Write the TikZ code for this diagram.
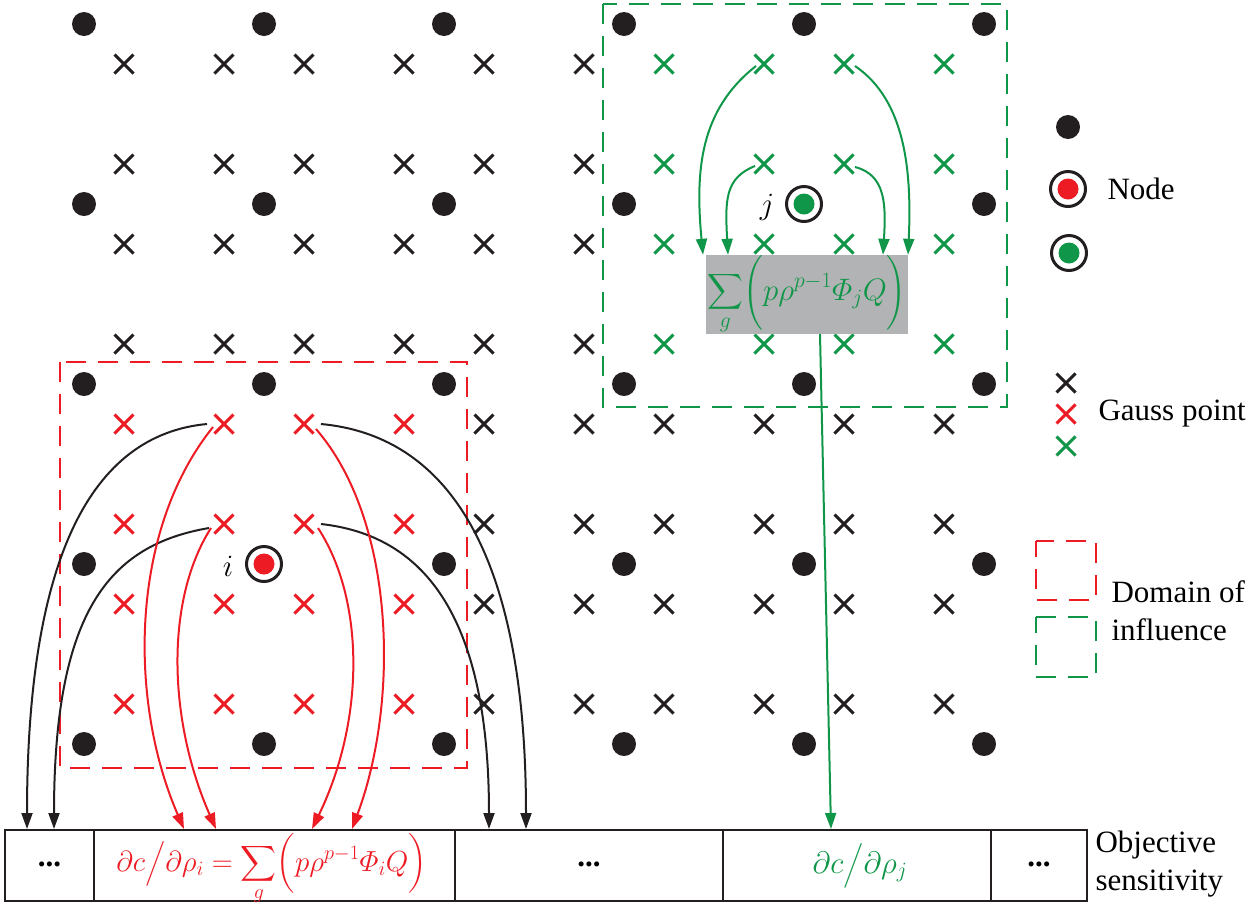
\RequirePackage{fix-cm}
\documentclass[tikz,border=0pt]{standalone}
\usepackage{amsmath}
\usepackage{fontspec}
\setmainfont{Liberation Serif}
\usetikzlibrary{arrows.meta,shapes.misc,calc}
\definecolor{myred}{RGB}{237,28,36}
\definecolor{mygreen}{RGB}{16,150,72}
\definecolor{myblack}{RGB}{35,31,32}
\definecolor{boxgray}{RGB}{178,179,180}
\begin{document}
\begin{tikzpicture}[x=1pt,y=-1pt,
  every node/.style={font=\fontsize{31}{38}\selectfont},
  fenode/.style={circle,fill=myblack,minimum size=24pt,inner sep=0pt},
  gp/.style={cross out,draw=#1,line width=3pt,minimum size=16pt,inner sep=0pt},
  ring/.style={circle,draw=myblack,line width=3pt,minimum size=35pt,inner sep=0pt,fill=white},
  core/.style={circle,fill=#1,minimum size=21pt,inner sep=0pt},
  domrect/.style={draw=#1,line width=2.5pt,dash pattern=on 20pt off 12pt},
  arr/.style={line width=2pt,-{Triangle[length=16pt,width=11pt]}},
  cell/.style={draw=myblack,line width=2pt,minimum height=71pt,inner sep=0pt,anchor=north west}
]
\useasboundingbox (0,0) rectangle (1256,906);

% domains of influence
\draw[domrect=myred] (60,362) rectangle (467,768);
\draw[domrect=mygreen] (603,4) rectangle (1007,407);

% Gauss points
\foreach \ec/\er/\col in {0/0/myblack,1/0/myblack,2/0/myblack,0/1/myblack,1/1/myblack,2/1/myblack,
  2/2/myblack,3/2/myblack,4/2/myblack,2/3/myblack,3/3/myblack,4/3/myblack,
  0/2/myred,1/2/myred,0/3/myred,1/3/myred,
  3/0/mygreen,4/0/mygreen,3/1/mygreen,4/1/mygreen}{
  \foreach \k/\dx/\dy in {a/-50/-50,b/50/-50,c/-50/50,d/50/50}{
    \node[gp=\col] (g\ec\er\k) at ({174+180*\ec+\dx},{114+180*\er+\dy}) {};
  }
}

% finite element nodes
\foreach \r in {0,...,4}{
  \foreach \c in {0,...,5}{
    \ifnum\r\c=31 \else\ifnum\r\c=14 \else
      \node[fenode] (n\r\c) at ({84+180*\c},{24+180*\r}) {};
    \fi\fi
  }
}

% special nodes i and j
\node[ring] (i) at (264,564) {};
\node[core=myred] (ic) at (i) {};
\node (il) at (228,566) {$i$};
\node[ring] (j) at (804,204) {};
\node[core=mygreen] (jc) at (j) {};
\node (jl) at (767,207) {$j$};

% gray sum box
\node[fill=boxgray,text=mygreen,minimum width=202pt,minimum height=79pt,inner sep=0pt] (S) at (807,294.5)
  {$\displaystyle\sum_g\biggl(p\rho^{p-1}\varPhi_jQ\biggr)$};

% bottom bar
\node[cell,minimum width=89pt] (c1) at (4,829) {};
\node[cell,minimum width=361pt] (c2) at (93,829) {};
\node[cell,minimum width=268pt] (c3) at (454,829) {};
\node[cell,minimum width=268pt] (c4) at (722,829) {};
\node[cell,minimum width=96pt] (c5) at (990,829) {};
\node (t1) at ([yshift=1]c1.center) {\textbf{...}};
\node[text=myred,inner sep=0pt,font=\fontsize{29}{35}\selectfont] (t2) at ([shift={(-3,4)}]c2.center)
  {$\partial c\big/\partial\rho_i=\displaystyle\sum_g\Bigl(p\rho^{p-1}\varPhi_iQ\Bigr)$};
\node (t3) at ([yshift=1]c3.center) {\textbf{...}};
\node[text=mygreen] (t4) at ([shift={(3,0)}]c4.center) {$\partial c\big/\partial\rho_j$};
\node (t5) at ([yshift=1]c5.center) {\textbf{...}};
\node[anchor=west,align=left] (obj) at (1092,864) {Objective\\sensitivity};

% black arrows
\draw[arr,myblack] ([shift={(-17,0)}]g02b.center) .. controls (90,435) and (27,560) .. (27,0 |- c1.north);
\draw[arr,myblack] ([shift={(-15,4)}]g02d.center) .. controls (110,545) and (54,610) .. (54,0 |- c1.north);
\draw[arr,myblack] ([shift={(17,0)}]g12c.center) .. controls (420,535) and (489,610) .. (489,0 |- c3.north);
\draw[arr,myblack] ([shift={(17,0)}]g12a.center) .. controls (440,435) and (526,540) .. (526,0 |- c3.north);

% red arrows
\draw[arr,myred] ([shift={(-11,3)}]g02b.center) .. controls (130,530) and (128,700) .. (184,0 |- c2.north);
\draw[arr,myred] ([shift={(-13,4)}]g02d.center) .. controls (165,600) and (168,720) .. (216,0 |- c2.north);
\draw[arr,myred] ([shift={(14,4)}]g12c.center) .. controls (365,600) and (365,720) .. (312,0 |- c2.north);
\draw[arr,myred] ([shift={(12,5)}]g12a.center) .. controls (395,520) and (400,700) .. (352,0 |- c2.north);

% green arrows
\draw[arr,mygreen] ([shift={(-8,2)}]g30b.center) .. controls (700,110) and (695,170) .. (703,0 |- S.north);
\draw[arr,mygreen] ([shift={(-9,2)}]g30d.center) .. controls (725,178) and (725,200) .. (728,0 |- S.north);
\draw[arr,mygreen] ([shift={(11,3)}]g40c.center) .. controls (886,175) and (886,205) .. (883,0 |- S.north);
\draw[arr,mygreen] ([shift={(11,2)}]g40a.center) .. controls (905,100) and (912,170) .. (908,0 |- S.north);
\draw[arr,mygreen] (820,0 |- S.south) -- (831,0 |- c4.north);

% legend
\node[fenode] (L1) at (1068,127) {};
\node[ring] (L2) at (1068,189) {};
\node[core=myred] (L2c) at (L2) {};
\node[ring] (L3) at (1069,253) {};
\node[core=mygreen] (L3c) at (L3) {};
\node[anchor=west] (Lnode) at (1104,189) {Node};
\node[gp=myblack] (LG1) at (1066,383) {};
\node[gp=myred] (LG2) at (1066,414) {};
\node[gp=mygreen] (LG3) at (1066,446) {};
\node[anchor=west] (Lgauss) at (1095,414) {Gauss point};
\draw[domrect=myred,dash phase=4pt] (1036,541) rectangle (1096,600);
\draw[domrect=mygreen,dash phase=4pt] (1036,617) rectangle (1096,677);
\node[anchor=west,align=left] (Ldom) at (1108,611) {Domain of\\influence};
\end{tikzpicture}
\end{document}
